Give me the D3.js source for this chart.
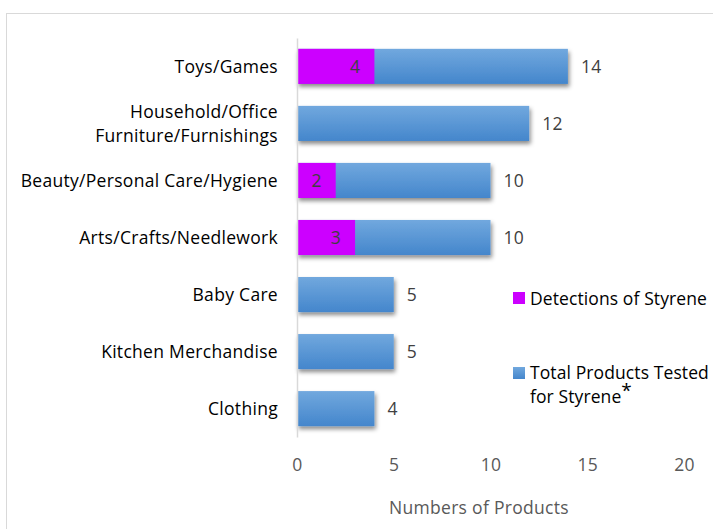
<!DOCTYPE html>
<html>
<head>
<meta charset="utf-8">
<script src="https://cdn.jsdelivr.net/npm/d3@7"></script>
<style>
  body { margin: 0; background: #fff; }
  text { font-family: "Open Sans", Lato, sans-serif; letter-spacing: 0.3px; }
  .legend text { letter-spacing: 0.1px; }
</style>
</head>
<body>
<div id="container"></div>
<script>
// chart data
const categories = [
  "Toys/Games",
  "Household/Office\nFurniture/Furnishings",
  "Beauty/Personal Care/Hygiene",
  "Arts/Crafts/Needlework",
  "Baby Care",
  "Kitchen Merchandise",
  "Clothing"
];
const totals = [14, 12, 10, 10, 5, 5, 4];
const detections = [4, null, 2, 3, null, null, null];
const xTicks = [0, 5, 10, 15, 20];

const W = 713, H = 529;
const FS = 17.5;
const svg = d3.select("#container")
  .append("svg")
  .attr("width", W)
  .attr("height", H);

// outer frame
svg.append("rect")
  .attr("x", 6.5).attr("y", 13.5)
  .attr("width", W + 10).attr("height", H + 10)
  .attr("fill", "none")
  .attr("stroke", "#d9d9d9");

const defs = svg.append("defs");
const grad = defs.append("linearGradient")
  .attr("id", "blueGrad")
  .attr("x1", 0).attr("y1", 0).attr("x2", 0).attr("y2", 1);
grad.append("stop").attr("offset", "0%").attr("stop-color", "#71a8de");
grad.append("stop").attr("offset", "100%").attr("stop-color", "#4486cc");

const shadow = defs.append("filter")
  .attr("id", "shadow")
  .attr("x", "-10%").attr("y", "-20%")
  .attr("width", "130%").attr("height", "160%");
shadow.append("feDropShadow")
  .attr("dx", 1.5).attr("dy", 3)
  .attr("stdDeviation", 2)
  .attr("flood-color", "#000")
  .attr("flood-opacity", 0.45);

// scales
const x = d3.scaleLinear().domain([0, 20]).range([297, 684]);
const y = d3.scaleBand()
  .domain(categories)
  .range([38, 437])
  .paddingInner(0.385)
  .paddingOuter(0.19);

// blue bars (totals)
svg.append("g")
  .selectAll("rect")
  .data(categories)
  .join("rect")
  .attr("x", x(0))
  .attr("y", d => y(d))
  .attr("width", (d, i) => x(totals[i]) - x(0))
  .attr("height", y.bandwidth())
  .attr("fill", "url(#blueGrad)")
  .attr("filter", "url(#shadow)");

// pink bars (detections)
const detData = categories
  .map((c, i) => ({ c, v: detections[i] }))
  .filter(d => d.v != null);

svg.append("g")
  .selectAll("rect")
  .data(detData)
  .join("rect")
  .attr("x", x(0))
  .attr("y", d => y(d.c))
  .attr("width", d => x(d.v) - x(0))
  .attr("height", y.bandwidth())
  .attr("fill", "#cc00ff");

svg.append("g")
  .selectAll("text")
  .data(detData)
  .join("text")
  .attr("x", d => x(d.v) - 14)
  .attr("y", d => y(d.c) + y.bandwidth() / 2)
  .attr("dy", "0.36em")
  .attr("text-anchor", "end")
  .attr("font-size", FS)
  .attr("fill", "#404040")
  .text(d => d.v);

// total labels
svg.append("g")
  .selectAll("text")
  .data(categories)
  .join("text")
  .attr("x", (d, i) => x(totals[i]) + 13)
  .attr("y", d => y(d) + y.bandwidth() / 2)
  .attr("dy", "0.36em")
  .attr("font-size", FS)
  .attr("fill", "#404040")
  .text((d, i) => totals[i]);

// y axis
const yAxis = svg.append("g")
  .attr("transform", `translate(${x(0)},0)`)
  .call(d3.axisLeft(y).tickSize(0).tickFormat(""));
yAxis.select(".domain").attr("stroke", "#d9d9d9").attr("stroke-width", 1.5);

svg.append("g")
  .selectAll("text")
  .data(categories)
  .join("text")
  .attr("text-anchor", "end")
  .attr("font-size", FS)
  .attr("fill", "#000")
  .each(function (d) {
    const lines = d.split("\n");
    const cy = y(d) + y.bandwidth() / 2;
    const t = d3.select(this);
    lines.forEach((ln, k) => {
      t.append("tspan")
        .attr("x", 278)
        .attr("y", cy + (k - (lines.length - 1) / 2) * 24)
        .attr("dy", "0.36em")
        .text(ln);
    });
  });

// x axis
const xAxis = svg.append("g")
  .attr("transform", "translate(0,459)")
  .call(d3.axisBottom(x).tickValues(xTicks).tickSize(0).tickPadding(0));
xAxis.select(".domain").remove();
xAxis.selectAll("text")
  .attr("font-size", FS)
  .attr("fill", "#595959")
  .attr("font-family", "'Open Sans', Lato, sans-serif");

svg.append("text")
  .attr("x", 479)
  .attr("y", 514)
  .attr("text-anchor", "middle")
  .attr("font-size", FS)
  .attr("fill", "#595959")
  .text("Numbers of Products");

// legend
const legend = svg.append("g").attr("class", "legend");
legend.append("rect")
  .attr("x", 513).attr("y", 292).attr("width", 12).attr("height", 12)
  .attr("fill", "#cc00ff");
legend.append("text")
  .attr("x", 530).attr("y", 304.5)
  .attr("font-size", FS).attr("fill", "#000")
  .text("Detections of Styrene");
legend.append("rect")
  .attr("x", 513).attr("y", 367).attr("width", 12).attr("height", 12)
  .attr("fill", "url(#blueGrad)");
legend.append("text")
  .attr("x", 530).attr("y", 379)
  .attr("font-size", FS).attr("fill", "#000")
  .text("Total Products Tested");
const lt2 = legend.append("text")
  .attr("x", 530).attr("y", 403)
  .attr("font-size", FS).attr("fill", "#000");
lt2.append("tspan").text("for Styrene");
lt2.append("tspan").attr("dy", -6).attr("font-size", 19).text("*");
</script>
</body>
</html>
